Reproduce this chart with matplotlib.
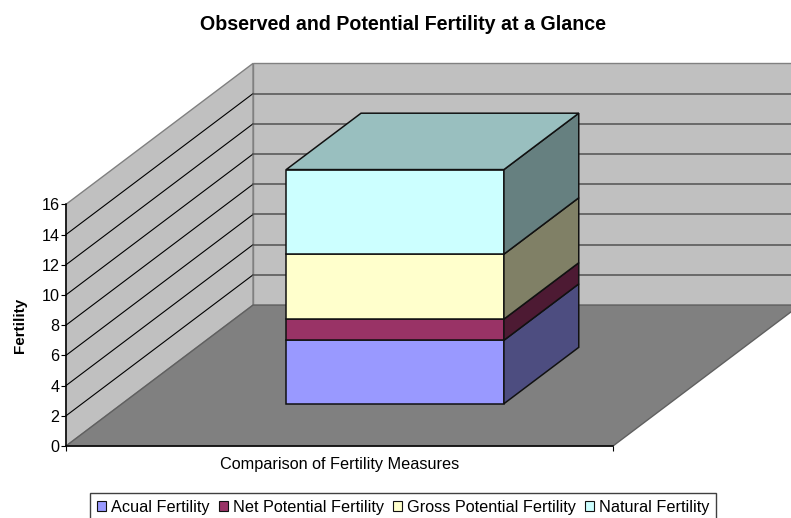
import matplotlib
matplotlib.use('Agg')
import matplotlib.pyplot as plt
from matplotlib.patches import Patch

plt.rcParams['font.family'] = ['Liberation Sans', 'DejaVu Sans']

categories = ['Comparison of Fertility Measures']
series_names = ['Acual Fertility', 'Net Potential Fertility', 'Gross Potential Fertility', 'Natural Fertility']
series_values = [4.2, 1.4, 4.3, 5.6]
y_ticks = [0, 2, 4, 6, 8, 10, 12, 14, 16]

front_colors = ['#9999FF', '#993366', '#FFFFCC', '#CCFFFF']
side_colors = ['#4D4D80', '#4D1A33', '#808066', '#668080']
top_color = '#99BFBF'

# how far one unit of depth moves a point, in axis units
DEPTH_X = 0.342
DEPTH_Y = 9.33

def proj(x, v, d):
    return x + DEPTH_X * d, v + DEPTH_Y * d

def poly(ax, pts, color, edge, lw=1.0, z=1):
    xs, ys = zip(*[proj(*p) for p in pts])
    ax.fill(xs, ys, facecolor=color, edgecolor=edge, linewidth=lw, zorder=z, clip_on=False, joinstyle='miter')

def draw_walls(ax):
    top = y_ticks[-1]
    # side wall, back wall, floor
    poly(ax, [(0, 0, 0), (0, top, 0), (0, top, 1), (0, 0, 1)], '#C0C0C0', '#808080', z=1)
    poly(ax, [(0, 0, 1), (0, top, 1), (1, top, 1), (1, 0, 1)], '#C0C0C0', '#808080', z=1)
    poly(ax, [(0, 0, 0), (0, 0, 1), (1, 0, 1), (1, 0, 0)], '#808080', '#606060', z=2)
    for v in y_ticks[1:-1]:
        x0, y0 = proj(0, v, 0)
        x1, y1 = proj(0, v, 1)
        x2, y2 = proj(1, v, 1)
        ax.plot([x0, x1], [y0, y1], color='black', lw=0.8, zorder=3, clip_on=False)
        ax.plot([x1, x2], [y1, y2], color='#5A5A5A', lw=1.2, zorder=3, clip_on=False)

def draw_bar(ax):
    x0, x1 = 0.3, 0.698
    d0, d1 = 0.3, 0.7
    bottom = 0
    for i, val in enumerate(series_values):
        t = bottom + val
        z = 5 + i
        poly(ax, [(x0, bottom, d0), (x1, bottom, d0), (x1, t, d0), (x0, t, d0)], front_colors[i], '#111111', 1.1, z)
        poly(ax, [(x1, bottom, d0), (x1, bottom, d1), (x1, t, d1), (x1, t, d0)], side_colors[i], '#111111', 1.1, z)
        bottom = t
    poly(ax, [(x0, bottom, d0), (x1, bottom, d0), (x1, bottom, d1), (x0, bottom, d1)], top_color, '#111111', 1.1, 10)

def main():
    fig = plt.figure(figsize=(7.91, 5.18), dpi=100, facecolor='white')
    ax = fig.add_axes([66 / 791, 1 - 446 / 518, 547 / 791, 241.7 / 518])
    ax.set_xlim(0, 1)
    ax.set_ylim(0, 16)
    ax.patch.set_visible(False)

    draw_walls(ax)
    draw_bar(ax)

    for side in ['top', 'right']:
        ax.spines[side].set_visible(False)
    for side in ['left', 'bottom']:
        ax.spines[side].set_zorder(12)
        ax.spines[side].set_linewidth(1.1)

    ax.set_yticks(y_ticks)
    ax.tick_params(axis='y', labelsize=11.6, length=3.6, width=0.8, pad=1)
    ax.set_xticks([0.5])
    ax.set_xticklabels(categories, fontsize=11.7)
    ax.tick_params(axis='x', which='major', length=0, pad=8)
    ax.set_xticks([0, 1], minor=True)
    ax.tick_params(axis='x', which='minor', length=3.6, width=0.8)

    fig.text(403 / 791, 1 - 24 / 518, 'Observed and Potential Fertility at a Glance',
             ha='center', va='center', fontsize=14.1, fontweight='bold')
    fig.text(20 / 791, 1 - 325 / 518, 'Fertility', rotation=90,
             ha='center', va='center', fontsize=11, fontweight='bold')

    # the box runs off the bottom of the picture, as in the original
    handles = [Patch(facecolor=c, edgecolor='#111111', linewidth=0.8) for c in front_colors]
    leg = fig.legend(handles, series_names, ncol=4, loc='center', bbox_to_anchor=(403 / 791, 1 - 507.5 / 518),
                     fontsize=11.7, frameon=True, fancybox=False, edgecolor='#404040', framealpha=1,
                     handlelength=0.57, handleheight=0.57, handletextpad=0.3, columnspacing=0.55,
                     borderpad=0.43, borderaxespad=0)
    leg.get_frame().set_linewidth(1.0)

    fig.savefig('out.png', dpi=100, facecolor='white')

if __name__ == "__main__":
    main()
